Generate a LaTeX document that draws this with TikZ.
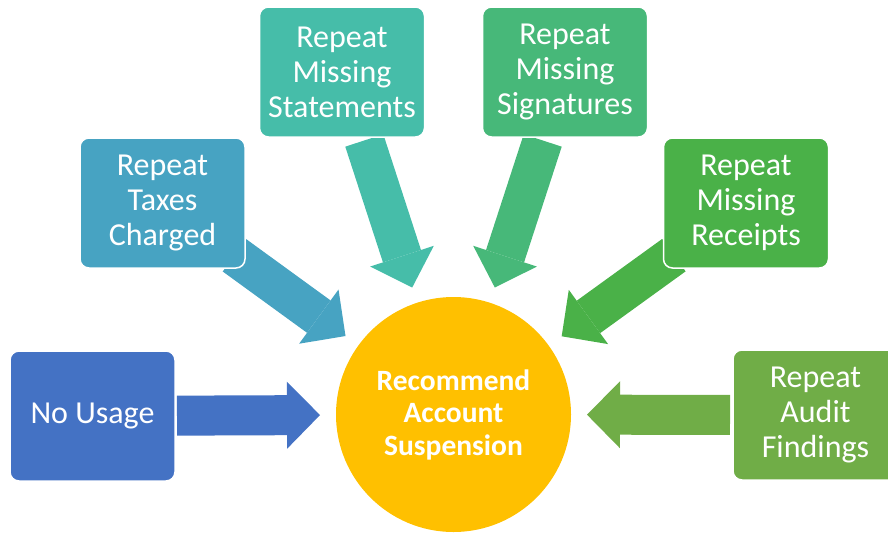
\documentclass[tikz,border=0pt]{standalone}
\usepackage{fontspec}
\setmainfont{Carlito}
\usepackage{xcolor}
\usepackage{tikz}
\usetikzlibrary{arrows.meta, positioning, backgrounds}
\definecolor{usageblue}{HTML}{4472C4}
\definecolor{taxesteal}{HTML}{47A3C2}
\definecolor{stmtteal}{HTML}{46BDA9}
\definecolor{signgreen}{HTML}{47B879}
\definecolor{rcptgreen}{HTML}{4AB148}
\definecolor{auditgreen}{HTML}{70AD47}
\definecolor{hubgold}{HTML}{FFC000}
\tikzstyle{cause}    = [rectangle, rounded corners=9pt, minimum width=165pt, minimum height=130pt,
                        inner sep=0pt, draw=white, line width=1.5pt, text=white,
                        font=\fontsize{32}{35}\selectfont]
\tikzstyle{hub}      = [circle, minimum size=235pt, inner sep=0pt, fill=hubgold, text=white,
                        font=\fontsize{29.5}{32.5}\selectfont\bfseries]
\tikzstyle{bigarrow} = [line width=40pt, -{Triangle[width=67pt,length=33pt,line width=0pt]},
                        shorten >=133.5pt]
\tikzset{every node/.style={align=center}}

\begin{document}
\begin{tikzpicture}[x=1pt, y=-1pt]
  \useasboundingbox (0,0) rectangle (888,533);
  % Hub
  \node[hub] (hub) at (453.5,414.5) {Recommend\\Account\\Suspension};
  % Causes
  \node[cause, fill=usageblue]  (usage)      at (92.5,416)  {No Usage};
  \node[cause, fill=taxesteal]  (taxes)      at (162.5,203) {Repeat\\Taxes\\Charged};
  \node[cause, fill=stmtteal]   (statements) at (342,72)    {Repeat\\Missing\\Statements};
  \node[cause, fill=signgreen]  (signatures) at (565,72)    {Repeat\\Missing\\Signatures};
  \node[cause, fill=rcptgreen]  (receipts)   at (746,203)   {Repeat\\Missing\\Receipts};
  \node[cause, fill=auditgreen] (audit)      at (815.5,415) {Repeat\\Audit\\Findings};
  % Arrows into the hub
  \begin{pgfonlayer}{background}
    \draw[bigarrow, usageblue,  shorten <=84.5pt] (usage.center)      -- (hub.center);
    \draw[bigarrow, taxesteal,  shorten <=89pt]   (taxes.center)      -- (hub.center);
    \draw[bigarrow, stmtteal,   shorten <=72pt]   (statements.center) -- (hub.center);
    \draw[bigarrow, signgreen,  shorten <=72pt]   (signatures.center) -- (hub.center);
    \draw[bigarrow, rcptgreen,  shorten <=89pt]   (receipts.center)   -- (hub.center);
    \draw[bigarrow, auditgreen, shorten <=85.5pt] (audit.center)      -- (hub.center);
  \end{pgfonlayer}
\end{tikzpicture}
\end{document}
